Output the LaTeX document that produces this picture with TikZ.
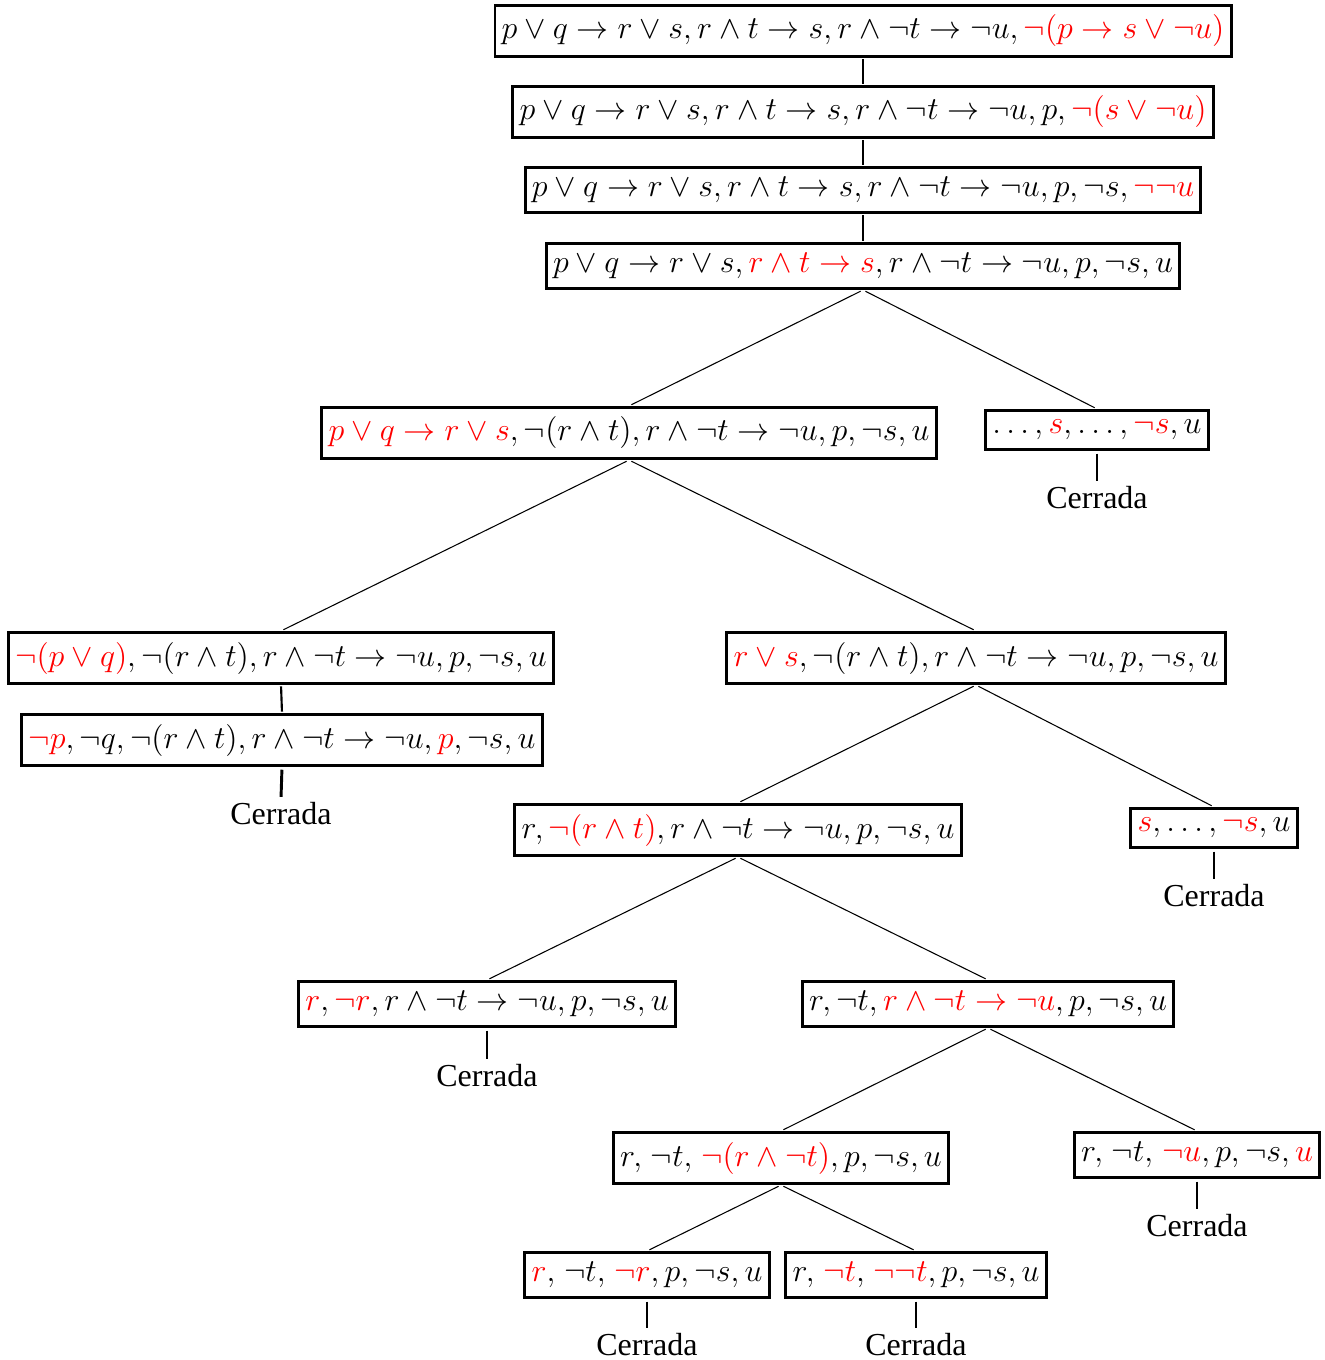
\documentclass[tikz,border=0pt]{standalone}
\usepackage[usenames,dvipsnames]{xcolor}
\usepackage{amsmath,amssymb}
\usepackage{fontspec}
\setmainfont{Liberation Serif}
\usepackage{tikz}

\newcommand{\rojo}[1]{\textcolor{red}{#1}}
\newcommand{\sep}{,\mkern2mu}

\begin{document}
\begin{tikzpicture}[x=0.375pt, y=-0.375pt]
	\useasboundingbox (0,0) rectangle (1324,1360);
	\begin{scope}[every node/.style = {rectangle, draw, line width=1.1pt, inner xsep=2.5pt, inner ysep=3.6pt,
			font = \fontsize{12}{14}\selectfont}]
		\node (A) at (863,31) {$p\lor q\to r\lor s, r\land t\to s, r\land\neg t\to\neg u, \rojo{\neg(p\to s\lor\neg u)}$};
		\node (B) at (863,112) {$p\lor q\to r\lor s, r\land t\to s, r\land\neg t\to\neg u, p, \rojo{\neg(s\lor\neg u)}$};
		\node (C) at (863,190) {$p\lor q\to r\lor s, r\land t\to s, r\land\neg t\to\neg u, p, \neg s, \rojo{\neg\neg u}$};
		\node (D) at (863,266) {$p\lor q\to r\lor s, \rojo{r\land t\to s}, r\land\neg t\to\neg u, p, \neg s, u$};
		\node (E) at (629,433) {$\rojo{p\lor q\to r\lor s}, \neg(r\land t), r\land\neg t\to\neg u, p, \neg s, u$};
		\node (F) at (1097,430) {$\ldots, \rojo{s}, \ldots, \rojo{\neg s}, u$};
		\node (G) at (281,658) {$\rojo{\neg(p\lor q)}, \neg(r\land t), r\land\neg t\to\neg u, p, \neg s, u$};
		\node (H) at (976,658) {$\rojo{r\lor s}, \neg(r\land t), r\land\neg t\to\neg u, p, \neg s, u$};
		\node (I) at (282,740) {$\rojo{\neg p}, \neg q, \neg(r\land t), r\land\neg t\to\neg u, \rojo{p}, \neg s, u$};
		\node (J) at (738,830) {$r, \rojo{\neg(r\land t)}, r\land\neg t\to\neg u, p, \neg s, u$};
		\node (K) at (1214,828) {$\rojo{s}, \ldots, \rojo{\neg s}, u$};
		\node (L) at (487,1004) {$\rojo{r}, \rojo{\neg r}, r\land\neg t\to\neg u, p, \neg s, u$};
		\node (M) at (988,1004) {$r, \neg t, \rojo{r\land\neg t\to\neg u}, p, \neg s, u$};
		\node (N) at (781,1158) {$r\sep \neg t\sep \rojo{\neg(r\land\neg t)}, p, \neg s, u$};
		\node (O) at (1197,1155) {$r\sep \neg t\sep \rojo{\neg u}, p, \neg s, \rojo{u}$};
		\node (P) at (647,1275) {$\rojo{r}\sep \neg t\sep \rojo{\neg r}, p, \neg s, u$};
		\node (Q) at (916,1275) {$r\sep \rojo{\neg t}\sep \rojo{\neg\neg t}, p, \neg s, u$};
	\end{scope}
	\begin{scope}[every node/.style = {inner sep=1.5pt, font = \fontsize{12}{14}\selectfont}]
		\node (cF) at (1097,498) {Cerrada};
		\node (cI) at (281,814) {Cerrada};
		\node (cK) at (1214,896) {Cerrada};
		\node (cL) at (487,1076) {Cerrada};
		\node (cO) at (1197,1226) {Cerrada};
		\node (cP) at (647,1345) {Cerrada};
		\node (cQ) at (916,1345) {Cerrada};
	\end{scope}
	% cadena
	\begin{scope}[every edge/.style={draw=black, line width=0.8pt, shorten <=0.5pt, shorten >=0.5pt}]
		\path [-] (A.south) edge (B.north);
		\path [-] (B.south) edge (C.north);
		\path [-] (C.south) edge (D.north);
		\path [-] (G.south) edge (I.north);
	\end{scope}
	% ramas
	\begin{scope}[every edge/.style={draw=black, line width=0.4pt, shorten <=1pt, shorten >=1pt}]
		\path [-] (D.south) edge (E.north);
		\path [-] (D.south) edge (F.north);
		\path [-] (E.south) edge (G.north);
		\path [-] (E.south) edge (H.north);
		\path [-] (H.south) edge (J.north);
		\path [-] (H.south) edge (K.north);
		\path [-] (J.south) edge (L.north);
		\path [-] (J.south) edge (M.north);
		\path [-] (M.south) edge (N.north);
		\path [-] (M.south) edge (O.north);
		\path [-] (N.south) edge (P.north);
		\path [-] (N.south) edge (Q.north);
	\end{scope}
	% cerradas
	\begin{scope}[every edge/.style={draw=black, line width=1.1pt, shorten <=1pt, shorten >=0.5pt}]
		\path [-] (F.south) edge (cF.north);
		\path [-] (I.south) edge (cI.north);
		\path [-] (K.south) edge (cK.north);
		\path [-] (L.south) edge (cL.north);
		\path [-] (O.south) edge (cO.north);
		\path [-] (P.south) edge (cP.north);
		\path [-] (Q.south) edge (cQ.north);
	\end{scope}
\end{tikzpicture}
\end{document}
